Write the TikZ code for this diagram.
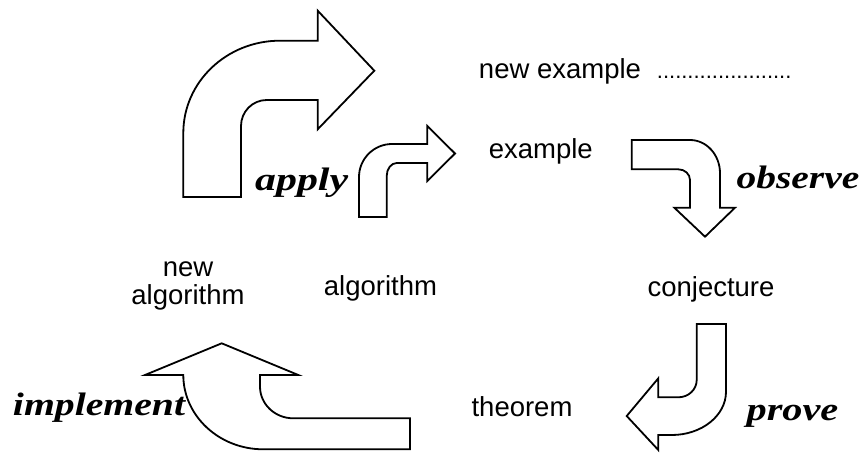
\documentclass[tikz,border=0pt]{standalone}
\usepackage{graphicx}
\usepackage{fontspec}
\newfontfamily\labfont{Liberation Sans}
\newfontfamily\verbfont{Liberation Serif}
\newcommand{\verbword}[2]{\resizebox{#1}{\height}{#2}}
\begin{document}
\begin{tikzpicture}[x=1pt,y=-1pt]
\tikzset{
  lab/.style={font=\labfont\fontsize{27.5}{27}\selectfont, inner sep=0pt, anchor=base},
  dotrow/.style={font=\labfont\fontsize{22}{22}\selectfont, inner sep=0pt, anchor=base west},
  verb/.style={font=\verbfont\bfseries\itshape\fontsize{32.5}{33}\selectfont, inner sep=0pt, anchor=base},
  blockarrow/.style={draw=black, line width=1.8pt, line join=miter}
}
\useasboundingbox (0,0) rectangle (866,452);

% labels
\node[lab] (newex) at (560,78) {new example};
\node[dotrow] (dots) at (656.7,78) {......................};
\node[lab] (ex) at (540.8,158.3) {example};
\node[verb] (observe) at (798,188.3) {\verbword{122.6pt}{observe}};
\node[lab] (conj) at (711,296.7) {conjecture};
\node[verb] (prove) at (792.5,420) {\verbword{91.7pt}{prove}};
\node[lab] (thm) at (522,416) {theorem};
\node[verb] (impl) at (99,415) {\verbword{172pt}{implement}};
\node[lab] (newalg) at (188,276) {\begin{tabular}[t]{@{}c@{}}new\\algorithm\end{tabular}};
\node[lab] (alg) at (380.5,295) {algorithm};
\node[verb] (apply) at (301.7,190) {\verbword{93pt}{apply}};

% big arrow (new algorithm -> new example)
\draw[blockarrow] (183.3,197) -- (183.3,133)
  .. controls (183.3,82.0) and (226.6,40.7) .. (280,40.7)
  -- (317.7,40.7) -- (317.7,10.7) -- (374.3,70.7) -- (317.7,129.3) -- (317.7,100)
  -- (266.7,100) .. controls (252.5,100) and (241,111.6) .. (241,126)
  -- (241,197) -- cycle;

% small arrow (algorithm -> example)
\draw[blockarrow] (359,217) -- (359,177)
  .. controls (359,158.8) and (373.8,144) .. (392,144)
  -- (427.3,144) -- (427.3,126) -- (455,153.5) -- (427.3,181) -- (427.3,163)
  -- (396.7,163) .. controls (391.2,163) and (386.7,168.8) .. (386.7,176)
  -- (386.7,217) -- cycle;

% observe arrow
\draw[blockarrow] (631.7,140) -- (690,140)
  .. controls (706.6,140) and (720,154.9) .. (720,173.3)
  -- (720,207.7) -- (735,207.7) -- (705,236.7) -- (674.3,207.7) -- (690,207.7)
  -- (690,180) .. controls (690,174.1) and (684.8,169.3) .. (678.3,169.3)
  -- (631.7,169.3) -- cycle;

% prove arrow
\draw[blockarrow] (696.7,324) -- (726,324) -- (726,391.7)
  .. controls (726,415.6) and (701.7,435) .. (671.7,435)
  -- (658.3,435) -- (658.3,450) -- (626.7,416) -- (658.3,378.3) -- (658.3,397.3)
  -- (678.3,397.3) .. controls (688.4,397.3) and (696.7,389.6) .. (696.7,380)
  -- cycle;

% implement arrow
\draw[blockarrow] (183.3,375) -- (145,375) -- (221.7,343.3) -- (298.3,375) -- (260,375)
  -- (260,386.7) .. controls (260,404.1) and (274.9,418.3) .. (293.3,418.3)
  -- (410,418.3) -- (410,449.3) -- (263.3,449.3)
  .. controls (219.1,449.3) and (183.3,415.8) .. (183.3,375) -- cycle;
\end{tikzpicture}
\end{document}
